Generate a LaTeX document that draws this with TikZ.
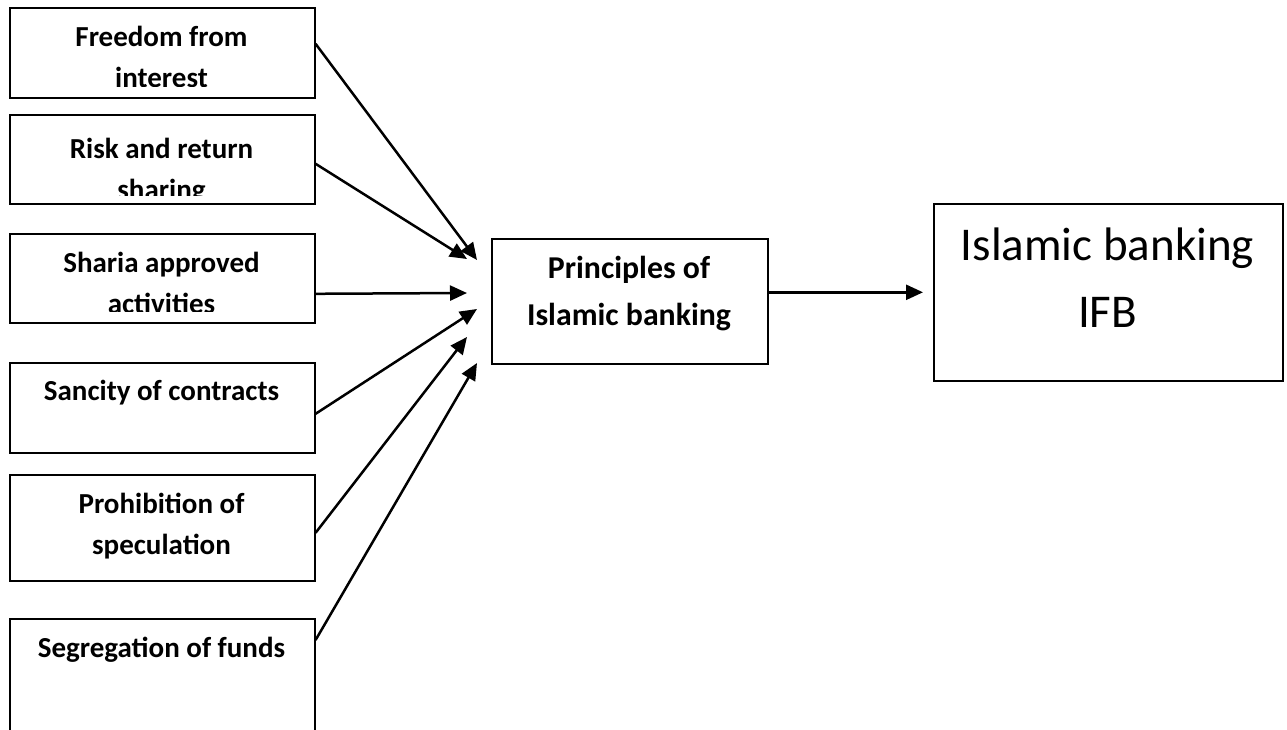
\documentclass[tikz,border=0pt]{standalone}
\usepackage{fontspec}
\setmainfont{Carlito}
\usetikzlibrary{arrows.meta}

\tikzset{
  factor/.style={draw, line width=1.6pt, minimum width=305pt, anchor=north west, inner sep=0pt},
  factortext/.style={anchor=base, align=center, inner sep=0pt, font=\fontsize{29}{41}\selectfont\bfseries},
  link/.style={line width=2.5pt, -{Triangle[length=17pt,width=15pt]}},
}

\begin{document}
\begin{tikzpicture}[x=1pt, y=-1pt]
\useasboundingbox (0,0) rectangle (1287,730);
\clip (0,0) rectangle (1287,730);

% left column: the six principles
\node[factor, minimum height=90pt] (free) at (9,7) {};
\node[factor, minimum height=89pt] (risk) at (9,114) {};
\node[factor, minimum height=89pt] (shar) at (9,233) {};
\node[factor, minimum height=90pt] (sanc) at (9,362) {};
\node[factor, minimum height=106pt] (proh) at (9,474) {};
\node[factor, minimum height=150pt] (segr) at (9,618) {};

% texts, cut off at the inner margin as in the original
% (base = baseline of the last line)
\begin{scope}
\clip (free.north west) rectangle ([yshift=12pt]free.south east);
\node[factortext] (free-t) at (161.5,88) {Freedom from\\interest};
\end{scope}
\begin{scope}
\clip (risk.north west) rectangle ([yshift=9pt]risk.south east);
\node[factortext] (risk-t) at (161.5,200) {Risk and return\\sharing};
\end{scope}
\begin{scope}
\clip (shar.north west) rectangle ([yshift=12pt]shar.south east);
\node[factortext] (shar-t) at (161.5,313) {Sharia approved\\activities};
\end{scope}
\node[factortext] (sanc-t) at (161.5,400) {Sancity of contracts};
\node[factortext] (proh-t) at (161.5,554) {Prohibition of\\speculation};
\node[factortext] (segr-t) at (161.5,657) {Segregation of funds};

% middle and right
\node[draw, line width=1.6pt, minimum width=276pt, minimum height=125pt, anchor=north west] (prin) at (491,238) {};
\node[anchor=base, align=center, inner sep=0pt, font=\fontsize{31.8}{47}\selectfont\bfseries] (prin-t) at (629,325) {Principles of\\Islamic banking};
\node[draw, line width=1.6pt, minimum width=349pt, minimum height=177pt, anchor=north west] (ifb) at (933,203) {};
\node[anchor=base, align=center, inner sep=0pt, font=\fontsize{47}{67}\selectfont] (ifb-t) at (1107.5,327) {Islamic banking\\IFB};

% arrow tips in front of the middle box
\coordinate (t1) at (477,260);
\coordinate (t2) at (467,259);
\coordinate (t3) at (467,293);
\coordinate (t4) at (477,309);
\coordinate (t5) at (467,337);
\coordinate (t6) at (477,363);

\draw[link] ([yshift=9pt]free.east) -- (t1);
\draw[link] ([yshift=-4.5pt]risk.east) -- (t2);
\draw[link] ([yshift=-15.5pt]shar.east) -- (t3);
\draw[link] ([yshift=-6pt]sanc.east) -- (t4);
\draw[link] ([yshift=-5pt]proh.east) -- (t5);
\draw[link] ([yshift=-22pt]segr.north east) -- (t6);
\draw[link] (prin.east |- ifb.west) -- ([xshift=-10pt]ifb.west);
\end{tikzpicture}
\end{document}
